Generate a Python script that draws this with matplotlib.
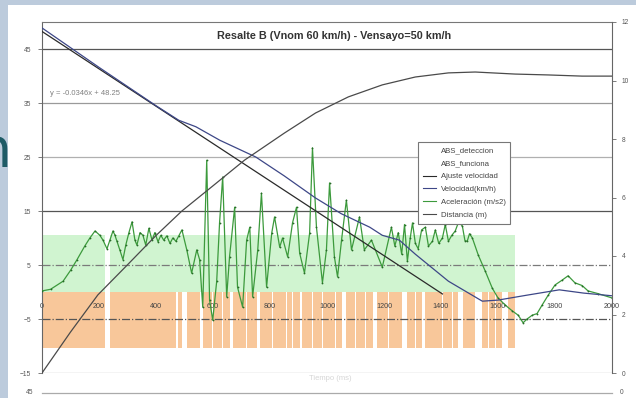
import numpy as np
import matplotlib.pyplot as plt
from matplotlib.lines import Line2D
from matplotlib.patches import Rectangle

plt.rcParams['font.family'] = ['Liberation Sans', 'DejaVu Sans']

# ensayo resalte B: eje x = tiempo (ms)
t_acc = [0, 30, 74, 100, 123, 150, 168, 186, 203, 214, 228, 238, 249, 256, 263, 273, 284, 294, 305, 316,
         326, 333, 344, 354, 364, 375, 386, 396, 407, 417, 427, 438, 449, 459, 470, 480, 491,
         508, 525, 543, 553, 564, 578, 588, 599, 613, 623, 634, 648, 658, 676, 686, 704, 718, 729, 739, 757,
         770, 788, 806, 816, 834, 844, 862, 879, 893, 904, 921, 939, 949, 963, 984, 998, 1009, 1026, 1037,
         1051, 1068, 1086, 1114, 1131, 1156, 1194, 1226,
         1238, 1250, 1262, 1272, 1282, 1292, 1300, 1310, 1320, 1332, 1345, 1356, 1370, 1380, 1392, 1405,
         1415, 1426, 1438, 1450, 1462, 1475, 1484, 1492, 1500, 1510, 1531, 1555,
         1580, 1600, 1625, 1650, 1671, 1688, 1702, 1720, 1737, 1755, 1776, 1800, 1825, 1846, 1870, 1895,
         1916, 1951, 2000]
acc = [0.2, 0.5, 2.0, 4.0, 6.0, 8.5, 10.0, 11.3, 10.5, 9.6, 8.0, 9.6, 11.3, 10.5, 9.4, 7.8, 6.0, 8.7, 11.0, 13.0,
       9.6, 8.7, 11.0, 10.5, 8.7, 11.8, 9.6, 11.0, 9.3, 10.5, 9.6, 10.4, 9.0, 10.0, 9.4, 10.4, 11.5,
       7.8, 3.5, 7.8, 6.0, -2.8, 24.4, -1.5, -5.2, 2.0, 12.8, 21.3, -0.9, 6.5, 15.7, 0.9, -2.8, 9.6, 12.0, -0.9, 7.8,
       18.3, 0.9, 10.9, 13.9, 8.3, 10.0, 6.5, 12.8, 15.7, 7.2, 3.5, 10.9, 26.7, 12.0, 1.7, 7.8, 20.2, 6.5, 2.8,
       9.6, 17.0, 7.8, 13.9, 7.8, 9.6, 4.6, 12.0,
       8.5, 11.0, 7.0, 12.5, 5.7, 10.0, 12.8, 9.0, 8.0, 11.5, 12.0, 8.5, 9.4, 11.5, 9.0, 10.0,
       12.5, 9.4, 10.5, 11.3, 13.0, 12.2, 9.5, 9.4, 10.8, 10.0, 6.8, 3.9,
       0.7, -1.1, -2.4, -3.5, -4.3, -5.7, -5.0, -4.3, -4.0, -2.4, -0.6, 1.3, 2.2, 3.0, 1.7, 1.2,
       0.2, -0.3, -1.1]

t_vel = [0, 200, 400, 480, 540, 624, 750, 850, 960, 1050, 1150, 1194, 1254, 1310, 1426, 1545,
         1600, 1700, 1815, 1900, 2000]
vel = [48.9, 41.6, 34.5, 31.8, 30.6, 28.1, 25.0, 21.5, 17.4, 14.5, 12.0, 10.5, 9.6, 7.0, 2.0, -1.7,
       -1.5, -0.6, 0.4, -0.2, -0.7]

# ajuste lineal de la velocidad
fit_slope = -0.0346
fit_icpt = 48.25
fit_t = [0, 1405]

t_dist = [0, 100, 196, 300, 400, 491, 600, 711, 850, 960, 1075, 1194, 1310, 1426, 1520, 1660, 1776, 1895, 2000]
dist = [0, 1.4, 2.67, 3.7, 4.7, 5.54, 6.4, 7.28, 8.2, 8.89, 9.44, 9.85, 10.12, 10.26, 10.29, 10.22, 10.19,
        10.15, 10.15]

# señales ABS (nivel fijo mientras están activas)
abs_end = 1660
abs_det_level = 10.5
abs_fun_level = -10.4
abs_det_gaps = [(221, 238)]
abs_fun_gaps = [(221, 238), (470, 476), (490, 508), (553, 564), (597, 601), (632, 636), (658, 669),
                (716, 720), (753, 764), (807, 811), (856, 860), (877, 881), (904, 914), (947, 951),
                (982, 986), (1028, 1032), (1054, 1065), (1098, 1102), (1133, 1137), (1163, 1177),
                (1213, 1217), (1264, 1282), (1308, 1312), (1335, 1345), (1403, 1407), (1438, 1442),
                (1461, 1478), (1520, 1545), (1564, 1568), (1588, 1592), (1615, 1636)]


def on_segments(gaps, end):
    starts, widths = [], []
    pos = 0
    for a, b in gaps:
        starts.append(pos)
        widths.append(a - pos)
        pos = b
    starts.append(pos)
    widths.append(end - pos)
    return starts, widths


fig = plt.figure(figsize=(6.36, 3.98), dpi=100, facecolor='#bccbdc')
fig.add_artist(Rectangle((8 / 636, 0), 1, 1 - 5 / 398, transform=fig.transFigure,
                         facecolor='white', edgecolor='none', zorder=0))
fig.text(12 / 636, 1 - 167 / 398, 'n', fontsize=40, color='#1e5b66', ha='right', va='baseline',
         family='DejaVu Sans', zorder=-1)

ax = fig.add_axes([42 / 636, 25 / 398, 570 / 636, 351 / 398], zorder=1)
ax.patch.set_alpha(0)
ax.set_xlim(0, 2000)
ax.set_ylim(-15, 50)

# bandas ABS
s, w = on_segments(abs_det_gaps, abs_end)
ax.bar(s, [abs_det_level] * len(s), width=w, align='edge', color='#d0f4d0', linewidth=0, zorder=1)
s, w = on_segments(abs_fun_gaps, abs_end)
ax.bar(s, [abs_fun_level] * len(s), width=w, align='edge', color='#f8c79a', linewidth=0, zorder=1)

# rejilla horizontal
grid_y = [45, 35, 25, 15, 5, -5, -15]
grid_c = ['#555555', '#9a9a9a', '#b0b0b0', '#555555', '#7a7a7a', '#555555', '#aaaaaa']
grid_ls = ['-', '-', '-', '-', '-.', '-.', '-']
for gy, gc, gl in zip(grid_y, grid_c, grid_ls):
    ax.axhline(gy, color=gc, lw=0.9, ls=gl, zorder=1.5)

ax.plot(t_acc, acc, color='#3c9a3c', lw=0.9, marker='o', ms=1.3, mfc='#276b27', mec='none', zorder=3)
fit_v = [fit_slope * t + fit_icpt for t in fit_t]
ax.plot(fit_t, fit_v, color='#2a2a2a', lw=0.9, zorder=4)
ax.plot(t_vel, vel, color='#3d4787', lw=0.9, zorder=4)
ax.text(28, 36.7, 'y = -0.0346x + 48.25', fontsize=5.5, color='#808080', va='center')

ax.set_yticks(grid_y)
ax.set_xticks(np.arange(0, 2001, 200))
ax.spines['bottom'].set_position(('data', 0))
ax.spines['bottom'].set_color('none')
ax.spines['right'].set_visible(False)
ax.spines['top'].set_color('#777777')
ax.spines['left'].set_color('#666666')
ax.tick_params(axis='x', length=0, pad=8, labelsize=5.2, labelcolor='#444444')
ax.tick_params(axis='y', length=3, width=0.6, color='#666666', pad=5, labelsize=4.8, labelcolor='#555555')

ax2 = ax.twinx()
ax2.set_ylim(0, 12)
ax2.set_yticks(np.arange(0, 13, 2))
ax2.plot(t_dist, dist, color='#4a4a4a', lw=0.9, zorder=4)
for side in ['top', 'left', 'bottom']:
    ax2.spines[side].set_visible(False)
ax2.spines['right'].set_color('#666666')
ax2.tick_params(axis='y', length=3, width=0.6, color='#666666', pad=4, labelsize=4.8, labelcolor='#555555')

handles = [Line2D([], [], color='none'), Line2D([], [], color='none'),
           Line2D([], [], color='#2a2a2a', lw=0.8), Line2D([], [], color='#3d4787', lw=0.8),
           Line2D([], [], color='#3c9a3c', lw=0.8), Line2D([], [], color='#4a4a4a', lw=0.8)]
labels = ['ABS_deteccion', 'ABS_funciona', 'Ajuste velocidad', 'Velocidad(km/h)',
          'Aceleración (m/s2)', 'Distancia (m)']
leg = ax2.legend(handles, labels, loc='upper left', bbox_to_anchor=(0.653, 0.668), fontsize=5.6,
                 labelspacing=0.7, handlelength=1.7, handletextpad=0.6, borderpad=0.6,
                 fancybox=False, framealpha=1, edgecolor='#777777')
leg.get_frame().set_linewidth(0.8)
for txt in leg.get_texts():
    txt.set_color('#444444')

fig.text(334 / 636, 1 - 36 / 398, 'Resalte B (Vnom 60 km/h) - Vensayo=50 km/h', fontsize=7.8,
         fontweight='bold', color='#333333', ha='center', va='center')
fig.text(330 / 636, 1 - 378 / 398, 'Tiempo (ms)', fontsize=5.5, color='#d6d6d6', ha='center', va='center')

# borde superior del gráfico siguiente
fig.add_artist(Line2D([42 / 636, 612 / 636], [1 - 393 / 398] * 2, transform=fig.transFigure,
                      color='#aaaaaa', lw=0.9))
fig.text(33 / 636, 1 - 392 / 398, '45', fontsize=4.8, color='#555555', ha='right', va='center')
fig.text(620 / 636, 1 - 392 / 398, '0', fontsize=4.8, color='#555555', ha='left', va='center')

fig.savefig('out.png', dpi=100, facecolor=fig.get_facecolor())
